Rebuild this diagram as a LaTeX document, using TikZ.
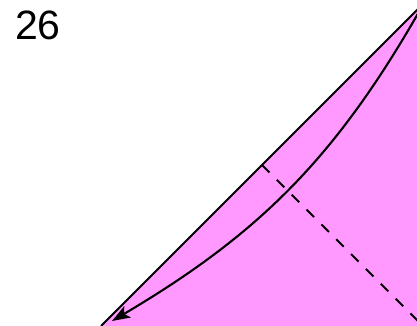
\documentclass[tikz,border=0pt]{standalone}
\usepackage{fontspec}
\setmainfont{Liberation Sans}
\usetikzlibrary{arrows.meta}
\definecolor{foglio}{RGB}{255,153,255}
\tikzset{
  piega/.style={line width=2.1pt, dash pattern=on 10.6pt off 10.4pt},
  bordo/.style={line width=2.1pt},
}
\begin{document}
\begin{tikzpicture}[x=1pt,y=1pt]
        \useasboundingbox (0,0) rectangle (417,326);
        \clip (0,0) rectangle (417,326);
        % Numero del passo
        \node[font=\fontsize{41}{41}\selectfont] (passo) at (38,301) {26};

        % Punti
        \coordinate (basso) at (101,0);
        \coordinate (alto) at (427,326);
        \coordinate (segno) at (262,161);

        % Foglio
        \fill[foglio] (basso) -- (417,0) -- (417,316) -- (alto) -- cycle;
        \draw[bordo] (basso) -- (alto); % Bordo diagonale

        % Linea di piega
        \draw[piega] (segno) -- ++(170,-170);

        % Freccia
        \draw[bordo, -{Stealth[length=18pt,width=13pt,inset=4pt]}]
            (424,323) to[bend left=15] (112,5);
    \end{tikzpicture}
\end{document}
